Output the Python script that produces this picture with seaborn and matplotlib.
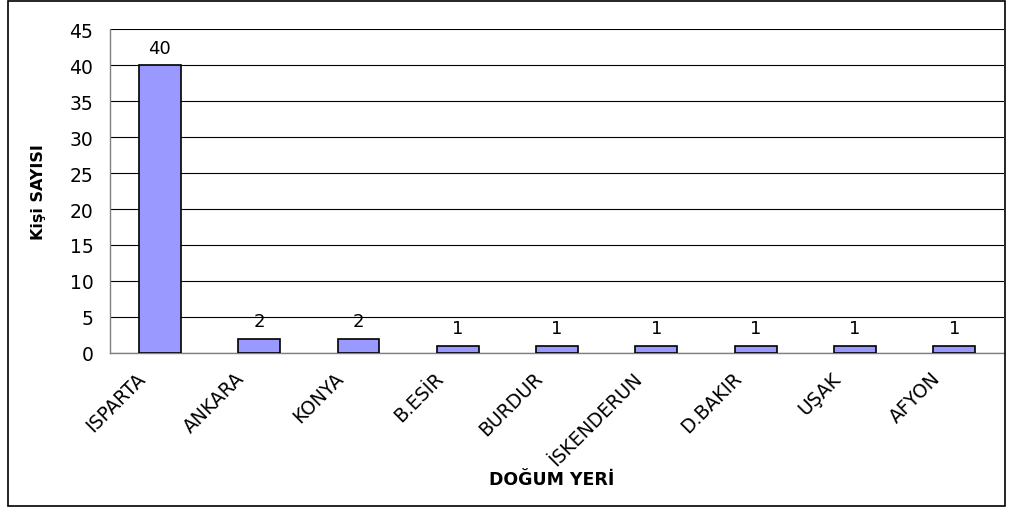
import numpy as np
import pandas as pd
import seaborn as sns
from matplotlib import pyplot as plt
from matplotlib import transforms
from matplotlib.patches import Rectangle

places = ["ISPARTA", "ANKARA", "KONYA", "B.ESİR", "BURDUR", "İSKENDERUN", "D.BAKIR", "UŞAK", "AFYON"]
counts = [40, 2, 2, 1, 1, 1, 1, 1, 1]

df = pd.DataFrame({"place": places, "count": counts})

sns.set_style("white")
plt.rcParams["font.family"] = ["DejaVu Sans"]
plt.rcParams["text.color"] = "black"
plt.rcParams["axes.labelcolor"] = "black"

fig = plt.figure(figsize=(10.1, 5.1), dpi=100)
ax = fig.add_axes([0.109, 0.306, 0.885, 0.635])

sns.barplot(data=df, x="place", y="count", color="#9999FF", saturation=1,
            edgecolor="black", linewidth=1.2, width=0.42, ax=ax, zorder=3)

# value labels above each bar
for i, v in enumerate(counts):
    ax.annotate(str(v), (i, v), xytext=(0, 6), textcoords="offset points",
                ha="center", va="bottom", fontsize=13, color="black")

ax.set_ylim(0, 45)
ax.set_yticks(np.arange(0, 46, 5))
ax.set_xlim(-0.5, len(places) - 0.5)
ax.yaxis.grid(True, color="black", linewidth=0.8, zorder=0)
ax.set_axisbelow(True)

# category labels at centres, tick marks between categories (Excel style)
ax.set_xticks(range(len(places)))
ax.set_xticks(np.arange(-0.5, len(places)), minor=True)
ax.tick_params(axis="x", which="major", length=0, pad=11, labelcolor="black")
ax.tick_params(axis="x", which="minor", length=5, color="#808080", width=1)
ax.tick_params(axis="y", length=5, color="#808080", width=1, labelsize=13.5,
               pad=7, labelcolor="black")
ax.set_xticklabels(places, rotation=45, ha="right", va="top",
                   rotation_mode="anchor", fontsize=13.5)
shift = transforms.ScaledTranslation(-24 / 100, 0, fig.dpi_scale_trans)
for lab in ax.get_xticklabels():
    lab.set_transform(lab.get_transform() + shift)

for s in ["top", "right"]:
    ax.spines[s].set_visible(False)
for s in ["left", "bottom"]:
    ax.spines[s].set_color("#808080")
    ax.spines[s].set_linewidth(1)

ax.set_ylabel("Kişi SAYISI", fontsize=11.5, fontweight="bold")
ax.set_xlabel("DOĞUM YERİ", fontsize=12.5, fontweight="bold")
ax.yaxis.set_label_coords(-0.072, 0.5)
ax.xaxis.set_label_coords(0.494, -0.36)

# outer frame around the chart area
fig.patches.append(Rectangle((0.008, 0.006), 0.987, 0.99, transform=fig.transFigure,
                             fill=False, edgecolor="black", linewidth=1.2))

fig.savefig("out.png", dpi=100)
